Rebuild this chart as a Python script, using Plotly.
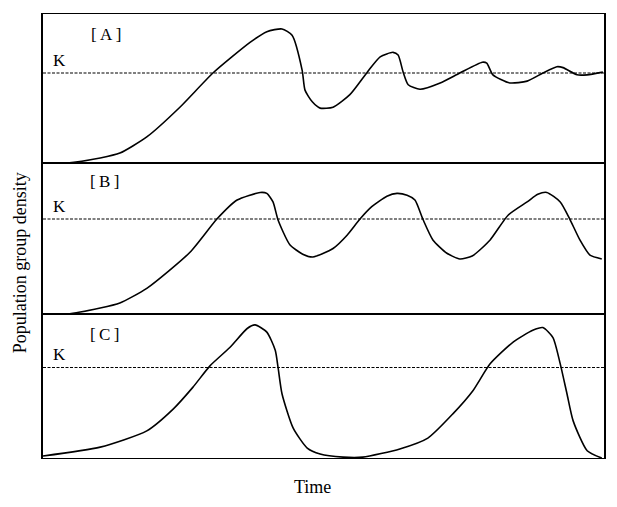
import plotly.graph_objects as go

# ---- data (time 0-100, density with carrying capacity K = 100) ----
K = 100

time_a = [0, 4.3, 10.2, 13.7, 18.5, 24.4, 30.3, 36.9, 39.9, 42.6, 44.4, 46.2, 46.7, 48.0, 49.4,
          51.7, 54.7, 57.8, 60.1, 62.4, 63.3, 64.2, 65.1, 67.2, 70.8, 74.3, 78.3, 79.1, 80.2,
          83.2, 86.3, 89.1, 91.6, 92.7, 95.2, 97.0, 99.8]
dens_a = [0, 0, 5.6, 11, 29, 62, 100, 134, 146, 149, 142, 103, 81, 68, 61,
          62, 76, 101, 118, 123, 120, 101, 87, 82, 89, 100, 112, 111, 98,
          89, 91, 100, 107, 106, 98, 98, 101]

time_b = [0, 4.3, 10.2, 13.7, 18.5, 26.2, 31.0, 34.6, 38.7, 39.9, 41.0, 41.9, 44.0, 46.3, 48.1,
          51.7, 54.2, 56.5, 58.6, 61.3, 63.1, 64.9, 66.3, 67.7, 69.5, 72.0, 74.3, 76.5, 79.7,
          82.9, 86.3, 88.2, 89.8, 92.2, 93.9, 95.7, 97.5, 99.6]
dens_b = [0, 0, 6.3, 11.6, 27, 65, 100, 120, 128, 127, 118, 99, 73, 63, 60,
          69, 83, 100, 113, 124, 127, 125, 120, 100, 78, 64, 58, 61, 78,
          104, 118, 126, 128, 118, 100, 78, 62, 58]

time_c = [0, 10.2, 18.5, 23.2, 26.7, 29.8, 33.3, 36.4, 37.8, 39.9, 41.4, 41.9, 42.6, 44.6, 47.1,
          49.4, 53.5, 57.0, 63.6, 68.6, 73.1, 76.6, 79.7, 83.8, 87.3, 89.1, 90.9, 92.2, 93.4,
          94.5, 97.0, 99.6]
dens_c = [2.2, 12, 30, 54, 78, 102, 122, 143, 147, 139, 119, 100, 71, 33, 11,
          4.4, 1, 1, 10, 22, 49, 74, 104, 128, 141, 144, 133, 104, 71,
          41, 8, 0]

panel_labels = ["[A]", "[B]", "[C]"]
label_pos = [(11.2, 143), (11.0, 139), (10.9, 136)]
y_tops = [165.6, 159, 159]
domains = [[0.6644, 1.0], [0.3243, 0.6644], [0.0, 0.3243]]

series = [(time_a, dens_a), (time_b, dens_b), (time_c, dens_c)]

FONT = "Liberation Serif"
fig = go.Figure()

for i, (t, d) in enumerate(series):
    n = "" if i == 0 else str(i + 1)
    fig.add_trace(go.Scatter(
        x=t, y=d, mode="lines",
        line=dict(color="black", width=1.6, shape="spline", smoothing=0.6),
        xaxis="x" + n, yaxis="y" + n, showlegend=False, hoverinfo="skip"))
    fig.add_trace(go.Scatter(
        x=[0, 100], y=[K, K], mode="lines",
        line=dict(color="black", width=1.1, dash="3px,1.5px"),
        xaxis="x" + n, yaxis="y" + n, showlegend=False, hoverinfo="skip"))

    axis_common = dict(showgrid=False, zeroline=False, showticklabels=False, ticks="",
                       showline=True, linecolor="black", mirror=True)
    fig.layout["xaxis" + n] = dict(range=[0, 100], domain=[0, 1], anchor="y" + n,
                                   linewidth=1, **axis_common)
    fig.layout["yaxis" + n] = dict(range=[0, y_tops[i]], domain=domains[i],
                                   anchor="x" + n, linewidth=1.5, **axis_common)

    fig.add_annotation(x=3.0, y=K, xref="x" + n, yref="y" + n, text="K",
                       showarrow=False, yanchor="bottom", yshift=1,
                       font=dict(family=FONT, size=17, color="black"))
    fig.add_annotation(x=label_pos[i][0], y=label_pos[i][1], xref="x" + n, yref="y" + n,
                       text=panel_labels[i].replace("[", "[\u2009").replace("]", "\u2009]"),
                       showarrow=False,
                       font=dict(family=FONT, size=17, color="black"))

fig.add_annotation(x=-0.041, y=0.441, xref="paper", yref="paper",
                   xanchor="center", yanchor="middle",
                   text="Population group density", textangle=-90, showarrow=False,
                   font=dict(family=FONT, size=18, color="black"))
fig.add_annotation(x=0.48, y=-0.0653, xref="paper", yref="paper", text="Time",
                   xanchor="center", yanchor="middle",
                   showarrow=False, font=dict(family=FONT, size=18, color="black"))

fig.update_layout(width=617, height=507,
                  margin=dict(l=43, r=13, t=14, b=49),
                  plot_bgcolor="white", paper_bgcolor="white")

fig.write_html("out.html", config={"displayModeBar": False},
               post_script="document.body.style.margin='0';")
